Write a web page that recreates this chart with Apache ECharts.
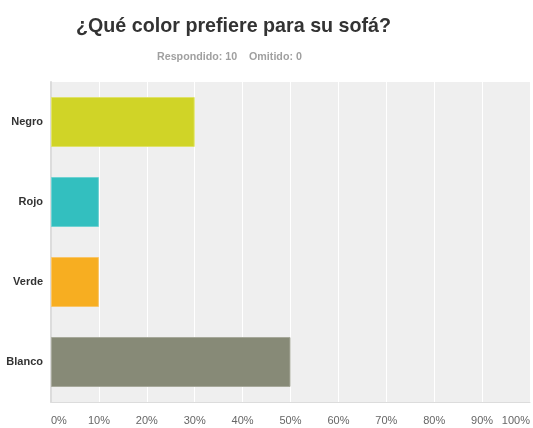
<!DOCTYPE html>
<html>
<head>
<meta charset="utf-8">
<script src="https://cdn.jsdelivr.net/npm/echarts@6/dist/echarts.min.js"></script>
<style>
html,body{margin:0;padding:0;background:#fff;}
#chart{width:533px;height:428px;}
</style>
</head>
<body>
<div id="chart"></div>
<script>
// Survey answers: share of respondents per sofa colour (%)
const categories = ['Negro', 'Rojo', 'Verde', 'Blanco'];
const values = [30, 10, 10, 50];
const barColors = ['#d0d427', '#33bfbf', '#f7ae21', '#878a77'];
const borderColors = ['#dfe26a', '#6fd2d2', '#f9c567', '#a7a99b'];
const tickLabels = ['0%', '10%', '20%', '30%', '40%', '50%', '60%', '70%', '80%', '90%', '100%'];

const font = 'Liberation Sans, Arial, sans-serif';
const chart = echarts.init(document.getElementById('chart'));
chart.setOption({
  animation: false,
  title: [{
    text: '¿Qué color prefiere para su sofá?',
    left: 71,
    top: 12,
    textStyle: { fontFamily: font, fontSize: 19.7, fontWeight: 'bold', color: '#333' }
  }, {
    text: 'Respondido: 10    Omitido: 0',
    left: 152,
    top: 47,
    textStyle: { fontFamily: font, fontSize: 10.7, fontWeight: 'bold', color: '#a0a0a0' }
  }],
  grid: {
    left: 51, right: 3, top: 82, bottom: 26,
    show: true, backgroundColor: '#efefef', borderWidth: 0
  },
  xAxis: {
    type: 'value', min: 0, max: 100, interval: 10,
    axisLine: { show: true, lineStyle: { color: '#dcdcdc', width: 1 } },
    axisTick: { show: false },
    splitLine: { show: true, lineStyle: { color: '#ffffff', width: 1 } },
    axisLabel: {
      formatter: v => tickLabels[Math.round(v / 10)],
      color: '#666', fontSize: 11, margin: 13,
      fontFamily: font,
      alignMinLabel: 'left',
      alignMaxLabel: 'right'
    }
  },
  yAxis: {
    type: 'category', data: categories, inverse: true,
    axisLine: { show: true, lineStyle: { color: '#dcdcdc', width: 2 } },
    axisTick: { show: false },
    axisLabel: {
      color: '#333', fontSize: 11, fontWeight: 'bold', margin: 8,
      fontFamily: font
    }
  },
  series: [{
    type: 'bar',
    data: values.map((v, i) => ({
      value: v,
      itemStyle: { color: barColors[i], borderColor: borderColors[i], borderWidth: 1 }
    })),
    barCategoryGap: '37.5%'
  }]
});
</script>
</body>
</html>
